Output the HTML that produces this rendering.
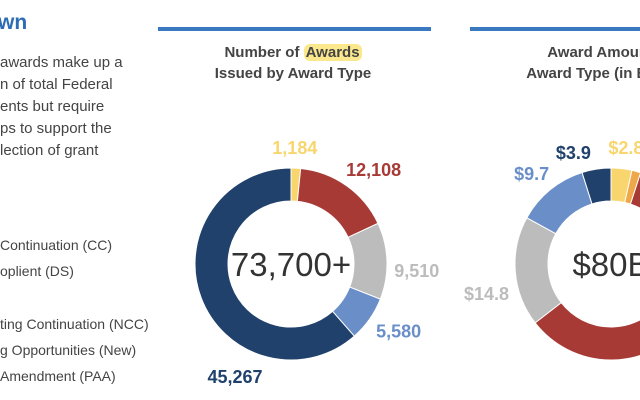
<!DOCTYPE html>
<html><head><meta charset="utf-8"><style>
body{margin:0;width:640px;height:400px;overflow:hidden;background:#fff;font-family:"Liberation Sans",sans-serif;position:relative}
.t{position:absolute;white-space:nowrap}
.p{font-size:15px;color:#444;left:0}
</style></head><body>
<div class="t" style="left:-2px;top:11px;font-size:21px;font-weight:bold;color:#2d6cb5">wn</div>
<div class="t p" style="top:54px">awards make up a</div>
<div class="t p" style="top:76px">n of total Federal</div>
<div class="t p" style="top:98px">ents but require</div>
<div class="t p" style="top:120px">ps to support the</div>
<div class="t p" style="top:142px">lection of grant</div>
<div class="t p" style="top:237px;font-size:14px">Continuation (CC)</div>
<div class="t p" style="top:263px;font-size:14px">oplient (DS)</div>
<div class="t p" style="top:316px;font-size:14px">ting Continuation (NCC)</div>
<div class="t p" style="top:342px;font-size:14px">g Opportunities (New)</div>
<div class="t p" style="top:368px;font-size:14px">Amendment (PAA)</div>
<div style="position:absolute;left:158px;top:27px;width:273px;height:4px;background:#3a78c0"></div>
<div style="position:absolute;left:470px;top:27px;width:170px;height:4px;background:#3a78c0"></div>
<div class="t" style="left:193px;width:200px;text-align:center;top:42px;font-size:15px;font-weight:bold;color:#444;line-height:21px">Number of <span style="background:#fbe88c;border-radius:6px;padding:0 2px">Awards</span><br>Issued by Award Type</div>
<div style="position:absolute;left:470px;top:0;width:170px;height:100px;overflow:hidden">
<div class="t" style="left:41px;width:200px;text-align:center;top:42px;font-size:15px;font-weight:bold;color:#444;line-height:21px">Award Amount by<br>Award Type (in Billions)</div>
</div>
<svg id="svg" width="640" height="400" style="position:absolute;left:0;top:0"></svg>
<script>
const awardCounts=[1184,12108,9510,5580,45267];
const awardLabels=["1,184","12,108","9,510","5,580","45,267"];
const amountValues=[2.8,1.2,47.6,14.8,9.7,3.9];
const amountLabels=["$2.8","","","$14.8","$9.7","$3.9"];
const colors1=["#f9d56e","#a83a36","#bcbcbc","#6a8fc8","#1f416b"];
const colors2=["#f9d56e","#eea84a","#a83a36","#bcbcbc","#6a8fc8","#1f416b"];
// label placement (angle shift deg from slice mid, radius)
const lay1=[[-1,116],[6,125],[5,126],[-3,127],[-43,126]];
const lay2=[[1,117],[0,120],[0,120],[-9,128],[-2,120],[-10,117]];
const svg=document.getElementById('svg');
const NS="http://www.w3.org/2000/svg";
function pt(cx,cy,r,a){return [cx+r*Math.sin(a),cy-r*Math.cos(a)];}
function donut(vals,cols,labels,cx,cy,ro,ri,name,lay){
 const tot=vals.reduce((a,b)=>a+b,0);let a0=0;
 vals.forEach((v,i)=>{const a1=a0+v/tot*2*Math.PI;
  const [x0,y0]=pt(cx,cy,ro,a0),[x1,y1]=pt(cx,cy,ro,a1),[x2,y2]=pt(cx,cy,ri,a1),[x3,y3]=pt(cx,cy,ri,a0);
  const lg=(a1-a0)>Math.PI?1:0;
  const p=document.createElementNS(NS,'path');
  p.setAttribute('d',`M${x0},${y0}A${ro},${ro} 0 ${lg} 1 ${x1},${y1}L${x2},${y2}A${ri},${ri} 0 ${lg} 0 ${x3},${y3}Z`);
  p.setAttribute('fill',cols[i]);p.setAttribute('stroke','#fff');p.setAttribute('stroke-width','1');
  
  
  svg.appendChild(p);
  if(labels[i]){const m=(a0+a1)/2+lay[i][0]*Math.PI/180;const [lx,ly]=pt(cx,cy,lay[i][1],m);
   const t=document.createElementNS(NS,'text');t.setAttribute('x',lx);t.setAttribute('y',ly+6);
   t.setAttribute('text-anchor','middle');t.setAttribute('fill',cols[i]);t.setAttribute('font-size','18');
   t.setAttribute('font-weight','bold');t.setAttribute('font-family','Liberation Sans, sans-serif');
   t.textContent=labels[i];
   
   
   svg.appendChild(t);}
  a0=a1;});
}
donut(awardCounts,colors1,awardLabels,291,264,96,63,'awards',lay1);
donut(amountValues,colors2,amountLabels,611,264,96,63,'amount',lay2);
function ctext(x,y,s,n){const t=document.createElementNS(NS,'text');t.setAttribute('x',x);t.setAttribute('y',y);
 t.setAttribute('text-anchor','middle');t.setAttribute('font-size','33');t.setAttribute('fill','#333');
 t.setAttribute('font-family','Liberation Sans, sans-serif');t.textContent=s;
 
 
 svg.appendChild(t);}
ctext(291,276,'73,700+','awards-total');
ctext(611,276,'$80B','amount-total');
</script>
</body></html>
